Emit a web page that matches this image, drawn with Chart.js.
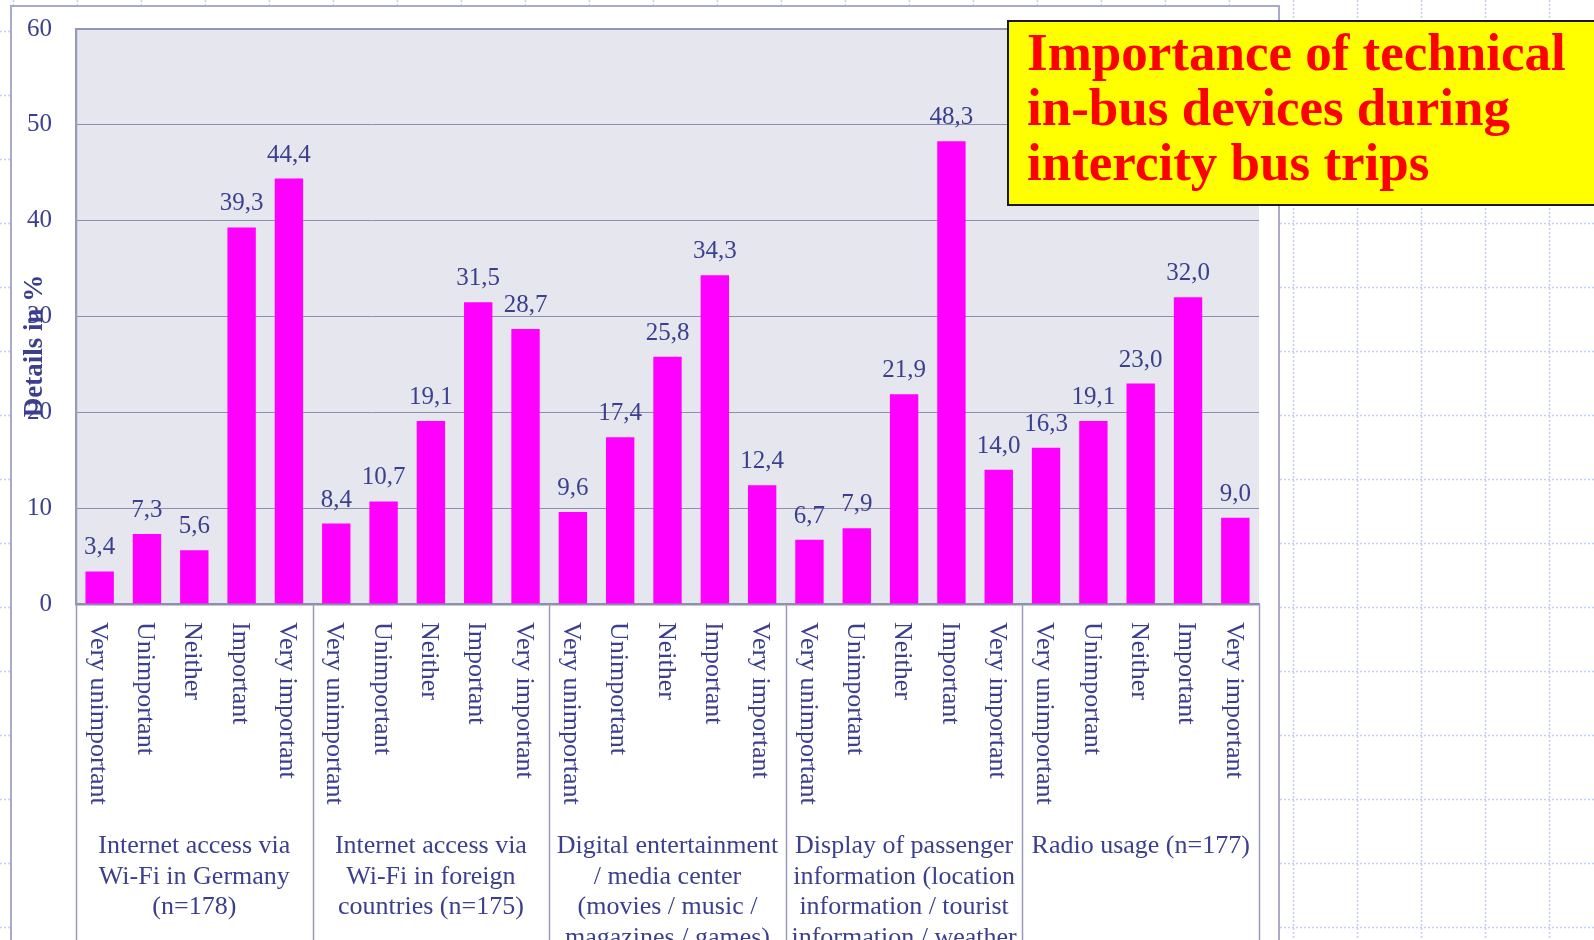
<!DOCTYPE html>
<html>
<head>
<meta charset="utf-8">
<script src="https://cdn.jsdelivr.net/npm/chart.js@4"></script>
<style>
  html, body { margin: 0; padding: 0; background: #ffffff; }
  #wrap { position: relative; width: 1594px; height: 940px; overflow: hidden; }
  #chart { position: absolute; left: 0; top: 0; }
  #headline {
    position: absolute; left: 1007px; top: 20px; width: 640px; height: 179px;
    background: #ffff00; border: 2px solid #1a1a1a;
    box-sizing: content-box;
    font-family: "Liberation Serif", "Times New Roman", serif;
    font-weight: bold; font-size: 53px; line-height: 55px; color: #ff0000;
    padding: 3px 0 0 18px; white-space: nowrap; z-index: 2;
  }
</style>
</head>
<body>
<div id="wrap">
  <canvas id="chart" width="1594" height="940"></canvas>
  <div id="headline">Importance of technical<br>in-bus devices during<br>intercity bus trips</div>
</div>
<script>
// Answer scale used for every device
const ratings = ["Very unimportant", "Unimportant", "Neither", "Important", "Very important"];

// Devices (group captions, pre-wrapped)
const groupLines = [
  ["Internet access via", "Wi-Fi in Germany", "(n=178)"],
  ["Internet access via", "Wi-Fi in foreign", "countries (n=175)"],
  ["Digital entertainment", "/ media center", "(movies / music /", "magazines / games)"],
  ["Display of passenger", "information (location", "information / tourist", "information / weather"],
  ["Radio usage (n=177)"]
];

// Share of answers in % per device
const wifiGermany   = [3.4, 7.3, 5.6, 39.3, 44.4];
const wifiForeign   = [8.4, 10.7, 19.1, 31.5, 28.7];
const entertainment = [9.6, 17.4, 25.8, 34.3, 12.4];
const passengerInfo = [6.7, 7.9, 21.9, 48.3, 14.0];
const radioUsage    = [16.3, 19.1, 23.0, 32.0, 9.0];

const yTicks = [0, 10, 20, 30, 40, 50, 60];
const yTitle = "Details in %";

const groups = [wifiGermany, wifiForeign, entertainment, passengerInfo, radioUsage];
const labels = [];
const values = [];
groups.forEach(g => g.forEach((v, i) => { labels.push(ratings[i]); values.push(v); }));

const SERIF = '"Liberation Serif", "Times New Roman", serif';
const NAVY = '#3b3f8e';
const LINE = '#8e8fb0';

const fmt = v => v.toFixed(1).replace('.', ',');

// Graph paper, white frame and plot background
const backdrop = {
  id: 'backdrop',
  beforeDraw(chart) {
    const { ctx, chartArea: a, width, height } = chart;
    ctx.save();
    ctx.fillStyle = '#ffffff';
    ctx.fillRect(0, 0, width, height);
    ctx.strokeStyle = '#c3cff4';
    ctx.lineWidth = 1.5;
    ctx.setLineDash([2, 2]);
    ctx.beginPath();
    for (let x = 13; x < width; x += 64) { ctx.moveTo(x + 0.5, 0); ctx.lineTo(x + 0.5, height); }
    for (let y = 31.5; y < height; y += 64) { ctx.moveTo(0, y); ctx.lineTo(width, y); }
    ctx.stroke();
    ctx.setLineDash([]);
    // chart frame
    ctx.fillStyle = '#ffffff';
    ctx.fillRect(11, 6, 1268, height);
    ctx.strokeStyle = '#a9aacb';
    ctx.lineWidth = 2;
    ctx.strokeRect(11, 6, 1268, height + 10);
    // plot area
    ctx.fillStyle = '#e6e7ee';
    ctx.fillRect(a.left, a.top, a.right - a.left, a.bottom - a.top);
    ctx.restore();
  }
};

// Value labels above the bars
const valueLabels = {
  id: 'valueLabels',
  afterDatasetsDraw(chart) {
    const { ctx } = chart;
    const meta = chart.getDatasetMeta(0);
    ctx.save();
    ctx.font = '25px ' + SERIF;
    ctx.fillStyle = NAVY;
    ctx.textAlign = 'center';
    ctx.textBaseline = 'alphabetic';
    meta.data.forEach((bar, i) => {
      ctx.fillText(fmt(values[i]), bar.x, bar.y - 17);
    });
    ctx.restore();
  }
};

// Rotated category labels, group captions, separators and the axis title
const categoryAxis = {
  id: 'categoryAxis',
  afterDraw(chart) {
    const { ctx, chartArea: a, height } = chart;
    const xs = chart.scales.x;
    ctx.save();
    // top edge of the plot
    ctx.strokeStyle = '#9495b5';
    ctx.lineWidth = 2;
    ctx.beginPath();
    ctx.moveTo(a.left, a.top);
    ctx.lineTo(a.right, a.top);
    ctx.stroke();

    // group separators
    const n = ratings.length;
    const bounds = [a.left];
    for (let g = 1; g < groups.length; g++) {
      bounds.push((xs.getPixelForValue(g * n - 1) + xs.getPixelForValue(g * n)) / 2);
    }
    bounds.push(a.right);
    ctx.strokeStyle = '#9a9bbb';
    ctx.lineWidth = 1.5;
    ctx.beginPath();
    bounds.forEach((x, i) => {
      const y0 = i === 0 ? a.top : a.bottom;
      ctx.moveTo(Math.round(x) + 0.5, y0);
      ctx.lineTo(Math.round(x) + 0.5, height);
    });
    ctx.stroke();

    // rating labels, reading downward
    ctx.fillStyle = NAVY;
    ctx.font = '26px ' + SERIF;
    ctx.textAlign = 'left';
    ctx.textBaseline = 'middle';
    labels.forEach((lab, i) => {
      const x = xs.getPixelForValue(i) - 2;
      ctx.save();
      ctx.translate(x, a.bottom + 18);
      ctx.rotate(Math.PI / 2);
      ctx.fillText(lab, 0, 0);
      ctx.restore();
    });

    // group captions
    ctx.textAlign = 'center';
    ctx.textBaseline = 'alphabetic';
    groupLines.forEach((lines, g) => {
      const cx = (bounds[g] + bounds[g + 1]) / 2;
      lines.forEach((t, k) => ctx.fillText(t, cx, 853 + k * 30.5));
    });

    // value axis title
    ctx.font = 'bold 27px ' + SERIF;
    ctx.textAlign = 'center';
    ctx.textBaseline = 'alphabetic';
    ctx.translate(42, 346);
    ctx.rotate(-Math.PI / 2);
    ctx.fillText(yTitle, 0, 0);
    ctx.restore();
  }
};

new Chart(document.getElementById('chart'), {
  type: 'bar',
  data: {
    labels: labels,
    datasets: [{
      data: values,
      backgroundColor: '#ff00ff',
      borderWidth: 0,
      categoryPercentage: 1.0,
      barPercentage: 0.6
    }]
  },
  options: {
    responsive: false,
    animation: false,
    layout: { padding: { top: 29, right: 335, left: 0, bottom: 0 } },
    plugins: {
      legend: { display: false },
      title: { display: false },
      tooltip: { enabled: false }
    },
    scales: {
      x: {
        type: 'category',
        grid: { display: false },
        border: { display: true, color: '#8e8fb0', width: 2.5 },
        ticks: { display: false },
        afterFit(scale) { scale.height = 336; }
      },
      y: {
        min: yTicks[0],
        max: yTicks[yTicks.length - 1],
        afterBuildTicks(scale) { scale.ticks = yTicks.map(v => ({ value: v })); },
        grid: {
          color: LINE,
          lineWidth: 1,
          drawTicks: false
        },
        border: { display: true, color: '#9495b5', width: 2 },
        ticks: {
          padding: 24,
          color: NAVY,
          font: { family: SERIF, size: 25 },
          callback: v => String(v)
        },
        afterFit(scale) {
          scale.width = 76;
          scale.paddingTop = 0;
          scale.paddingBottom = 0;
        }
      }
    }
  },
  plugins: [backdrop, valueLabels, categoryAxis]
});
</script>
</body>
</html>
